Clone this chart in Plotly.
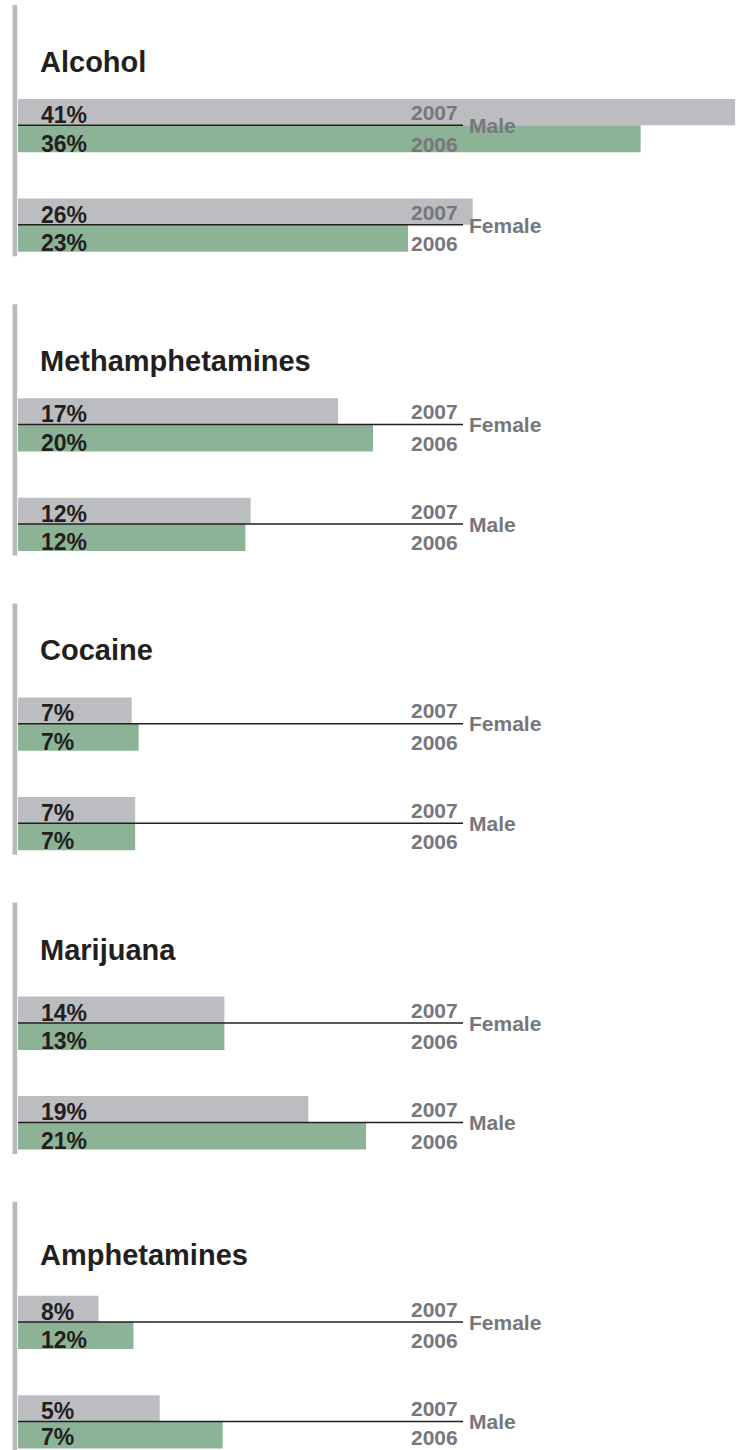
import plotly.graph_objects as go

# ---- data ----
drugs = ["Alcohol", "Methamphetamines", "Cocaine", "Marijuana", "Amphetamines"]
groups = [["Male", "Female"], ["Female", "Male"], ["Female", "Male"],
          ["Female", "Male"], ["Female", "Male"]]
years = ["2007", "2006"]
# printed percentages
pct_2007 = [[41, 26], [17, 12], [7, 7], [14, 19], [8, 5]]
pct_2006 = [[36, 23], [20, 12], [7, 7], [13, 21], [12, 7]]
# bar lengths as drawn in the graphic (percent units)
bar_2007 = [[41.0, 26.0], [18.3, 13.3], [6.5, 6.7], [11.8, 16.6], [4.6, 8.1]]
bar_2006 = [[35.6, 22.3], [20.3, 13.0], [6.9, 6.7], [11.8, 19.9], [6.6, 11.7]]

# ---- layout constants ----
W, H = 742, 1450
PX = 17.49      # pixels per percent
X0 = 18         # pixel where bars start
GRAY = "#bcbdc1"
GREEN = "#8db396"
DARK = "#231f20"
TXTGRAY = "#77777b"
FONT = "Liberation Sans, Arial, Helvetica, sans-serif"


def xd(px):
    return (px - X0) / PX


def fit(yy, size):
    # keep a text box inside the page
    return min(yy, H - 0.58 * size)


panel_top = [99 + 299.2 * i for i in range(len(drugs))]
title_off = [-37.5, -37, -47, -47, -41]
GROUP_STEP = 99.5
H07, H06 = 26.3, 27.0
PCT_SIZE, YR_SIZE, GEN_SIZE, TITLE_SIZE = 23, 21, 21, 29

y07, x07, y06, x06 = [], [], [], []
shapes, annotations = [], []

for i, drug in enumerate(drugs):
    P = panel_top[i]
    # left vertical rule
    shapes.append(dict(type="rect", xref="paper", yref="y",
                       x0=12.5 / W, x1=17.2 / W, y0=P - 94, y1=P + GROUP_STEP + H07 + H06 + 4.5,
                       fillcolor="#b9babe", line=dict(width=0), layer="below"))
    annotations.append(dict(x=xd(39), y=P + title_off[i], xref="x", yref="y",
                            text=f"<b>{drug}</b>", showarrow=False, xanchor="left",
                            yanchor="middle", borderpad=0,
                            font=dict(family=FONT, size=TITLE_SIZE, color=DARK)))
    for g in range(2):
        top = P + g * GROUP_STEP
        y07.append(top + H07 / 2)
        x07.append(bar_2007[i][g])
        y06.append(top + H07 + H06 / 2)
        x06.append(bar_2006[i][g])
        ly = top + H07
        shapes.append(dict(type="line", xref="x", yref="y", x0=xd(18), x1=xd(463),
                           y0=ly, y1=ly, line=dict(color=DARK, width=1.5), layer="above"))
        for txt, yy in ((f"{pct_2007[i][g]}%", top + 16), (f"{pct_2006[i][g]}%", top + 44.5)):
            annotations.append(dict(x=xd(40), y=fit(yy, PCT_SIZE), xref="x", yref="y",
                                    text=f"<b>{txt}</b>", showarrow=False, xanchor="left",
                                    yanchor="middle", borderpad=0,
                                    font=dict(family=FONT, size=PCT_SIZE, color=DARK)))
        for txt, yy in ((years[0], top + 13.5), (years[1], top + 45)):
            annotations.append(dict(x=xd(459), y=fit(yy, YR_SIZE), xref="x", yref="y",
                                    text=f"<b>{txt}</b>", showarrow=False, xanchor="right",
                                    yanchor="middle", borderpad=0,
                                    font=dict(family=FONT, size=YR_SIZE, color=TXTGRAY)))
        annotations.append(dict(x=xd(468), y=top + 26.5, xref="x", yref="y",
                                text=f"<b>{groups[i][g]}</b>", showarrow=False,
                                xanchor="left", yanchor="middle", borderpad=0,
                                font=dict(family=FONT, size=GEN_SIZE, color=TXTGRAY)))

fig = go.Figure()
fig.add_trace(go.Bar(orientation="h", x=x07, y=y07, width=H07, base=0, name="2007",
                     marker=dict(color=GRAY, line=dict(width=0)), hoverinfo="skip"))
fig.add_trace(go.Bar(orientation="h", x=x06, y=y06, width=H06, base=0, name="2006",
                     marker=dict(color=GREEN, line=dict(width=0)), hoverinfo="skip"))

fig.update_layout(
    width=W, height=H, margin=dict(l=0, r=0, t=0, b=0),
    paper_bgcolor="white", plot_bgcolor="white", showlegend=False,
    barmode="overlay",
    xaxis=dict(range=[xd(0), xd(W)], visible=False, showgrid=False, zeroline=False, fixedrange=True),
    yaxis=dict(range=[H, 0], visible=False, showgrid=False, zeroline=False, fixedrange=True),
    shapes=shapes, annotations=annotations,
)
fig.write_html("out.html")
